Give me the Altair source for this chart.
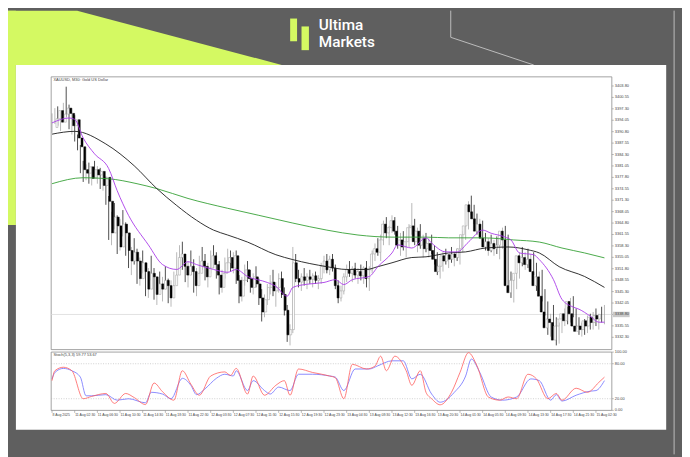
import altair as alt
import pandas as pd

# ---------------- data ----------------
first_open = 3392.0
highs = [3396.0,3397.5,3398.0,3396.5,3399.0,3403.6,3398.5,3396.0,3395.5,
         3390.0,3387.0,3382.5,3381.5,3382.0,3381.0,3382.5,3381.0,3380.5,3378.5,
         3378.0,3372.5,3368.0,3370.5,3367.0,3366.0,3368.5,3365.0,3361.0,
         3358.0,3360.5,3357.5,3355.0,3357.0,3353.5,3352.0,3355.5,3352.0,3349.0,3351.0,3349.5,3352.5,3349.0,3348.5,3351.0,3356.5,
         3358.5,3359.5,3356.0,3354.0,3357.0,3354.5,3352.0,3355.5,3358.0,3356.0,3353.5,3357.0,3358.5,3356.5,3354.0,3351.5,3355.0,3357.5,
         3357.0,3356.5,3357.0,3350.0,3349.5,3353.0,3354.0,3351.5,3350.5,3352.5,3349.0,3346.0,3344.5,3347.5,3350.0,3351.5,3348.0,3350.5,3351.0,3346.5,3341.5,3336.0,
         3358.0,3356.0,3351.5,3350.5,3352.0,3350.5,3351.5,3350.5,3351.0,3350.0,3353.5,3355.5,3356.0,3355.5,3356.0,3353.0,3348.5,3347.0,3350.5,
         3353.0,3354.0,3352.5,3353.5,3352.0,3353.0,3352.5,3354.0,3352.5,3357.0,3359.0,3360.5,3361.5,3365.5,3366.5,3364.0,3367.0,3366.5,
         3364.0,3362.0,3362.5,3361.0,3364.5,3370.5,3366.0,3363.5,3364.5,3361.5,3362.0,3360.5,3361.5,3358.5,3356.5,3353.0,
         3356.5,3357.5,3356.0,3358.0,3356.5,3357.5,3358.5,3362.5,3365.0,3371.0,3372.6,3370.0,3367.5,3366.0,3365.5,
         3362.0,3360.5,3361.5,3360.0,3361.0,3359.5,3363.5,3364.0,3361.5,3351.0,3349.5,3352.0,3356.5,3358.0,3356.5,3357.5,3356.0,3356.5,
         3353.5,3351.0,3351.5,3346.0,3342.5,3339.0,3341.5,3338.0,3336.5,3339.0,3340.5,3341.0,3343.5,3344.0,3340.5,3338.0,3336.5,3337.5,3338.5,3339.0,3339.5,3340.5,3339.0,3341.0,3341.5]
lows = [3390.5,3393.0,3392.5,3391.0,3394.0,3395.0,3391.5,3390.0,3388.0,
        3385.5,3379.0,3376.5,3377.0,3376.0,3375.5,3377.5,3376.0,3374.5,3374.0,
        3370.0,3360.0,3358.5,3363.0,3356.0,3357.0,3361.0,3355.5,3352.0,
        3350.0,3353.0,3347.5,3347.0,3350.5,3344.0,3343.5,3348.5,3343.0,3341.5,3345.0,3342.5,3346.0,3342.0,3341.0,3345.5,3348.5,
        3352.0,3351.5,3348.0,3346.5,3350.0,3345.0,3344.0,3349.0,3351.5,3348.5,3346.5,3350.5,3352.0,3349.0,3344.5,3345.0,3349.0,3351.5,
        3351.0,3350.5,3347.5,3342.0,3342.5,3347.0,3348.0,3345.0,3344.5,3346.5,3341.5,3336.8,3338.0,3341.5,3344.5,3344.0,3341.0,3345.0,3343.5,3338.5,3331.0,3330.0,
        3333.5,3348.0,3346.5,3345.5,3347.0,3346.0,3347.5,3346.5,3347.5,3346.0,3347.5,3350.5,3350.5,3350.0,3351.0,3346.0,3342.0,3342.5,3344.5,
        3348.0,3349.5,3348.0,3349.0,3347.5,3348.5,3347.5,3346.5,3345.5,3350.5,3354.0,3355.5,3354.0,3358.5,3360.5,3358.5,3362.0,3361.5,
        3357.5,3355.5,3357.0,3355.0,3358.0,3361.5,3358.5,3356.5,3357.5,3355.0,3356.5,3355.0,3356.0,3353.0,3350.0,3349.0,
        3351.0,3353.0,3352.0,3353.5,3352.5,3354.0,3353.0,3356.5,3360.0,3363.0,3367.0,3364.5,3361.5,3361.0,3359.5,
        3357.0,3355.5,3356.5,3355.5,3356.0,3354.5,3357.5,3358.0,3345.5,3343.5,3342.2,3346.0,3349.0,3352.5,3351.5,3352.0,3351.0,3350.0,
        3345.5,3344.0,3342.5,3338.5,3333.0,3332.5,3335.5,3330.0,3330.5,3333.5,3335.5,3336.0,3336.5,3338.0,3334.5,3333.0,3332.5,3333.0,3333.5,3334.5,3334.5,3335.5,3334.5,3336.5,3336.0]
closes = [3394.5,3396.8,3393.5,3395.8,3397.5,3396.0,3392.5,3394.2,3389.0,
          3386.5,3380.0,3379.0,3380.8,3377.5,3380.0,3378.5,3379.5,3375.5,3377.8,
          3371.0,3362.0,3366.5,3364.0,3358.0,3364.5,3362.0,3357.0,3354.0,
          3356.5,3354.0,3349.0,3353.5,3351.0,3346.0,3350.5,3349.5,3344.5,3347.5,3346.0,3348.5,3347.0,3343.5,3347.0,3350.0,3355.0,
          3356.0,3352.5,3350.0,3352.5,3351.0,3347.0,3350.5,3354.0,3352.5,3349.5,3352.0,3355.5,3353.0,3350.0,3346.5,3350.5,3353.5,3355.0,
          3352.0,3355.5,3348.5,3344.0,3348.5,3351.5,3349.0,3346.5,3349.5,3347.5,3343.5,3339.5,3343.0,3346.5,3348.0,3345.5,3346.5,3349.0,3344.5,3340.0,3333.0,3334.5,
          3353.5,3349.0,3348.0,3349.5,3348.5,3349.5,3348.8,3349.8,3348.5,3349.0,3352.5,3354.0,3351.5,3354.5,3352.0,3347.0,3343.5,3345.5,3349.5,
          3351.5,3350.5,3351.8,3350.0,3351.0,3349.8,3352.0,3349.0,3351.5,3356.0,3357.5,3356.5,3360.0,3364.5,3362.0,3363.5,3365.5,3362.5,
          3358.5,3360.0,3358.0,3359.5,3363.5,3364.0,3359.5,3362.5,3358.5,3360.5,3357.5,3359.0,3357.0,3354.5,3351.0,3352.5,
          3355.5,3354.0,3355.8,3354.5,3356.0,3355.0,3357.5,3361.5,3364.0,3370.0,3368.0,3366.0,3362.5,3364.5,3360.5,
          3358.0,3359.5,3357.0,3359.0,3357.5,3358.5,3362.5,3360.0,3347.0,3345.0,3348.5,3350.5,3355.5,3353.5,3355.0,3353.0,3354.5,3351.0,
          3347.0,3349.5,3344.0,3339.5,3335.0,3337.5,3336.5,3331.5,3335.5,3337.5,3339.0,3337.0,3342.5,3339.0,3335.5,3334.0,3335.5,3334.5,3337.0,3335.5,3338.0,3336.5,3338.5,3337.5,3338.8]

# moving averages: bar index, price
ma_fast_bar = [0,6,8,11,15,20,23,27,34,39,44,48,51,57,62,65,69,76,79,83,85,90,96,100,103,106,112,115,120,122,127,132,134,139,143,147,152,155,160,162,165,170,172,177,180,184,186,190,193,195]
ma_fast_val = [3393.3,3394.7,3394.3,3389.0,3384.5,3380.3,3374.0,3367.0,3358.6,3353.0,3351.6,3353.8,3353.0,3351.6,3350.8,3351.6,3349.6,3347.9,3346.8,3344.0,3346.5,3347.4,3347.9,3348.7,3347.3,3348.7,3349.6,3352.4,3356.3,3358.6,3357.7,3360.6,3359.1,3356.6,3356.6,3359.4,3362.8,3361.9,3360.8,3360.0,3356.3,3355.8,3354.4,3348.7,3343.1,3340.9,3340.3,3338.3,3336.6,3336.6]
ma_mid_bar = [0,8,19,29,37,44,51,57,62,69,79,85,97,104,111,115,120,127,132,140,146,153,161,168,172,179,188,195]
ma_mid_val = [3390.1,3390.9,3387.3,3381.1,3374.6,3369.8,3365.6,3362.8,3361.4,3359.4,3355.8,3354.4,3352.4,3351.6,3351.6,3352.4,3353.5,3355.0,3355.2,3356.3,3356.6,3357.7,3358.0,3357.2,3356.3,3352.4,3349.6,3346.5]
ma_slow_bar = [0,11,20,30,37,48,62,73,85,97,108,120,132,140,152,163,172,180,188,195]
ma_slow_val = [3376.0,3377.7,3377.4,3376.0,3374.6,3371.8,3369.0,3367.0,3364.8,3362.8,3361.4,3360.8,3360.8,3360.6,3360.6,3360.0,3359.4,3357.7,3356.3,3354.9]

# stochastic
stoch_k_bar = [0,1,4,7,11,14,19,22,26,29,33,36,39,43,46,49,52,56,61,63,65,69,71,75,79,82,84,87,92,98,100,103,106,111,114,116,118,121,125,127,130,132,134,137,141,144,147,150,154,158,161,164,168,171,175,178,180,185,189,193,195]
stoch_k_val = [51,68,74,68,20,24,29,12,29,22,10,47,32,17.5,68,45,26,59,66,60,72,28,59,26,43,51,26,71,65,59,56,20,79,71,76,93,68,93,68,43,68,31,20,9.6,31,65,99,76.5,23,17.5,23,20,62,54,20,29,17.5,38,31,48,57]
stoch_d_bar = [0,1,4,7,10,12,14,19,23,27,33,35,39,42,46,49,51,54,58,61,64,65,69,71,75,77,80,84,87,92,98,100,103,107,112,115,120,124,127,130,134,137,142,146,148,151,155,159,164,169,172,176,178,180,185,190,192,195]
stoch_d_val = [54,65,72,68,57,25,25,27,17.5,20,13,31,28,20,55,43,27,37,55,62,59,68,34,51,34,28,40,34,62,62,59,57,34,71,71,76.5,85,85,54,62,28,14,31,59,88,65,23,17.5,23,54,51,17.5,27,16,26,33,34,51]
stoch_levels = [80, 20]
stoch_ticks = [100, 80, 20, 0]
stoch_tick_text = ["100.00", "80.00", "20.00", "0.00"]

price_ticks = [3403.80,3400.55,3397.30,3394.05,3390.80,3387.55,3384.30,3381.05,3377.80,3374.55,3371.30,3368.05,
               3364.80,3361.55,3358.30,3355.05,3351.80,3348.55,3345.30,3342.05,3338.80,3335.55,3332.30]
current_price = 3338.80

time_bars = [0,8,16,24,32,40,48,56,64,72,80,88,96,104,112,120,128,136,144,152,160,168,176,184,192]
time_text = ["8 Aug 2025","11 Aug 02:30","11 Aug 06:30","11 Aug 10:30","11 Aug 14:30","11 Aug 18:30","11 Aug 22:30",
             "12 Aug 03:30","12 Aug 07:30","12 Aug 11:30","12 Aug 15:30","12 Aug 19:30","12 Aug 23:30",
             "13 Aug 04:30","13 Aug 08:30","13 Aug 12:30","13 Aug 16:30","13 Aug 20:30",
             "14 Aug 01:30","14 Aug 05:30","14 Aug 09:30","14 Aug 13:30","14 Aug 17:30","14 Aug 21:30","15 Aug 02:30"]

# ---------------- styling ----------------
LIME = "#d4f962"
GRAY_BG = "#5f5f5f"
FONT = "Liberation Sans"
TXT = "#444444"
FS = 4.0
FS_T = 3.5

X = alt.Scale(domain=[-0.3, 197.6], range=[43.7, 611])
PY = alt.Scale(domain=[3328.8, 3406.4], range=[343, 67])
SY = alt.Scale(domain=[0, 100], range=[404.5, 345.5])

one = pd.DataFrame({"k": [0]})

opens = [first_open] + closes[:-1]
cd = pd.DataFrame({"bar": list(range(len(closes))), "open": opens, "close": closes, "high": highs, "low": lows})
cd["high"] = cd[["high", "open", "close"]].max(axis=1)
cd["low"] = cd[["low", "open", "close"]].min(axis=1)
up = cd["close"] >= cd["open"]
cd["wick"] = ["#9a9a9a" if u else "#000000" for u in up]
cd["fill"] = ["#ffffff" if u else "#000000" for u in up]
cd["edge"] = ["#9a9a9a" if u else "#000000" for u in up]

def deco_rect(x, x2, y, y2, color, **kw):
    return alt.Chart(one).mark_rect(color=color, **kw).encode(
        x=alt.value(x), x2=alt.value(x2), y=alt.value(y), y2=alt.value(y2))

def deco_line(x, y, x2, y2, color="#bdbdbd", w=1):
    return alt.Chart(one).mark_rule(color=color, strokeWidth=w).encode(
        x=alt.value(x), y=alt.value(y), x2=alt.value(x2), y2=alt.value(y2))

layers = []
# background decoration
layers.append(deco_rect(0, 8, 0, 217, LIME))
tri = pd.DataFrame({"px": [0, 70, 277], "py": [0, 0, 55], "py2": [55, 55, 55]})
layers.append(alt.Chart(tri).mark_area(color=LIME).encode(
    x=alt.X("px:Q", scale=None), y=alt.Y("py:Q", scale=None), y2="py2:Q"))
layers.append(deco_line(448, 0, 448, 27))
layers.append(deco_line(448, 27, 532, 55))
layers.append(deco_line(674, 0, 674, 449))
# logo
layers.append(deco_rect(285.5, 292.5, 8, 31, LIME))
layers.append(deco_rect(297, 304.5, 16, 40, LIME))
layers.append(alt.Chart(one).mark_text(text="Ultima", font="Roboto", fontSize=15.5, fontWeight=500,
                                       color="#ffffff", align="left", baseline="top").encode(
    x=alt.value(314.5), y=alt.value(8)))
layers.append(alt.Chart(one).mark_text(text="Markets", font="Roboto", fontSize=15.5, fontWeight=500,
                                       color="#ffffff", align="left", baseline="top").encode(
    x=alt.value(314.5), y=alt.value(25)))
# white card
layers.append(deco_rect(8, 666, 55, 424, "#ffffff"))
# panel frames
layers.append(deco_rect(43.7, 611, 67, 343, "#ffffff", fillOpacity=0, stroke="#8a8a8a", strokeWidth=0.8))
layers.append(deco_rect(43.7, 611, 345.5, 404.5, "#ffffff", fillOpacity=0, stroke="#8a8a8a", strokeWidth=0.8))

# current price line
cp = pd.DataFrame({"p": [current_price]})
layers.append(alt.Chart(cp).mark_rule(color="#dadada", strokeWidth=0.8).encode(
    y=alt.Y("p:Q", scale=PY, axis=None), x=alt.value(43.7), x2=alt.value(611)))

# candles
layers.append(alt.Chart(cd).mark_rule(strokeWidth=0.7).encode(
    x=alt.X("bar:Q", scale=X, axis=None),
    y=alt.Y("low:Q", scale=PY, axis=None), y2="high:Q",
    color=alt.Color("wick:N", scale=None)))
layers.append(alt.Chart(cd).mark_bar(size=2.0, strokeWidth=0.5).encode(
    x=alt.X("bar:Q", scale=X, axis=None),
    y=alt.Y("open:Q", scale=PY, axis=None), y2="close:Q",
    fill=alt.Fill("fill:N", scale=None),
    stroke=alt.Stroke("edge:N", scale=None)))

# moving averages
def ma_layer(bars, vals, color):
    df = pd.DataFrame({"bar": bars, "v": vals})
    return alt.Chart(df).mark_line(color=color, strokeWidth=0.9, interpolate="monotone").encode(
        x=alt.X("bar:Q", scale=X, axis=None), y=alt.Y("v:Q", scale=PY, axis=None))
layers.append(ma_layer(ma_slow_bar, ma_slow_val, "#35a035"))
layers.append(ma_layer(ma_mid_bar, ma_mid_val, "#1a1a1a"))
layers.append(ma_layer(ma_fast_bar, ma_fast_val, "#a93be8"))

# price axis ticks and labels
pt = pd.DataFrame({"p": price_ticks, "t": [f"{v:.2f}" for v in price_ticks]})
layers.append(alt.Chart(pt).mark_rule(color="#8a8a8a", strokeWidth=0.6).encode(
    y=alt.Y("p:Q", scale=PY, axis=None), x=alt.value(611), x2=alt.value(613)))
layers.append(alt.Chart(cp).mark_rule(color="#c9c9c9", strokeWidth=5.5).encode(
    y=alt.Y("p:Q", scale=PY, axis=None), x=alt.value(612), x2=alt.value(629)))
layers.append(alt.Chart(pt).mark_text(font=FONT, fontSize=FS, color=TXT, align="left", baseline="middle").encode(
    y=alt.Y("p:Q", scale=PY, axis=None), x=alt.value(614), text="t:N"))

# chart captions
layers.append(alt.Chart(one).mark_text(text="XAUUSD, M30:  Gold US Dollar", font=FONT, fontSize=FS, color=TXT,
                                       align="left", baseline="middle").encode(x=alt.value(46), y=alt.value(70.5)))
layers.append(alt.Chart(one).mark_text(text="Stoch(5,3,3) 59.77 53.67", font=FONT, fontSize=FS, color=TXT,
                                       align="left", baseline="middle").encode(x=alt.value(46), y=alt.value(348.8)))

# stochastic
lv = pd.DataFrame({"s": stoch_levels})
layers.append(alt.Chart(lv).mark_rule(color="#b0b0b0", strokeWidth=0.6, strokeDash=[1, 1.5]).encode(
    y=alt.Y("s:Q", scale=SY, axis=None), x=alt.value(43.7), x2=alt.value(611)))
sd = pd.DataFrame({"bar": stoch_d_bar, "v": stoch_d_val})
sk = pd.DataFrame({"bar": stoch_k_bar, "v": stoch_k_val})
layers.append(alt.Chart(sd).mark_line(color="#6f6fff", strokeWidth=0.8, interpolate="monotone").encode(
    x=alt.X("bar:Q", scale=X, axis=None), y=alt.Y("v:Q", scale=SY, axis=None)))
layers.append(alt.Chart(sk).mark_line(color="#ff5c5c", strokeWidth=0.8, interpolate="monotone").encode(
    x=alt.X("bar:Q", scale=X, axis=None), y=alt.Y("v:Q", scale=SY, axis=None)))
st = pd.DataFrame({"s": stoch_ticks, "t": stoch_tick_text})
layers.append(alt.Chart(st).mark_rule(color="#8a8a8a", strokeWidth=0.6).encode(
    y=alt.Y("s:Q", scale=SY, axis=None), x=alt.value(611), x2=alt.value(613)))
layers.append(alt.Chart(st).mark_text(font=FONT, fontSize=FS, color=TXT, align="left", baseline="middle").encode(
    y=alt.Y("s:Q", scale=SY, axis=None), x=alt.value(614), text="t:N"))

# time axis
tl = pd.DataFrame({"bar": time_bars, "t": time_text})
layers.append(alt.Chart(tl).mark_rule(color="#8a8a8a", strokeWidth=0.6).encode(
    x=alt.X("bar:Q", scale=X, axis=None), y=alt.value(404.5), y2=alt.value(407)))
layers.append(alt.Chart(tl).mark_text(font=FONT, fontSize=FS_T, color=TXT, align="left", baseline="middle", dx=0.5).encode(
    x=alt.X("bar:Q", scale=X, axis=None), y=alt.value(409.5), text="t:N"))

chart = alt.layer(*layers).resolve_scale(x="independent", y="independent").properties(
    width=682, height=449, autosize=alt.AutoSizeParams(type="none"), padding=0,
    background=GRAY_BG
).configure_view(strokeWidth=0)

chart.save("out.html", embed_options={"renderer": "svg", "actions": False})
